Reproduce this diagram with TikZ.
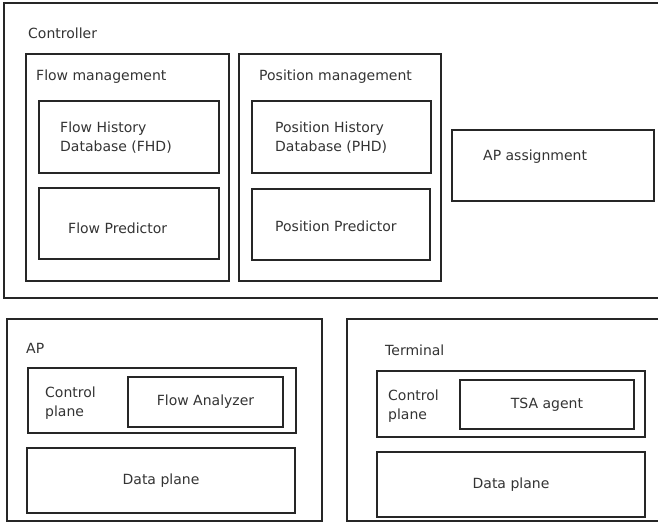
\documentclass[tikz,border=0pt]{standalone}
\usepackage{fontspec}
\setmainfont{DejaVu Sans}
\definecolor{txt}{rgb}{0.2,0.2,0.2}
\begin{document}
\begin{tikzpicture}[x=1pt,y=-1pt,
  box/.style={draw=black!85, line width=1.3pt, inner sep=0pt, outer sep=0pt, anchor=north west},
  lbl/.style={text=txt, font=\fontsize{14}{19}\selectfont, inner sep=0pt, anchor=west, align=left},
  clbl/.style={text=txt, font=\fontsize{14}{19}\selectfont, inner sep=0pt, anchor=center, align=center}]
\useasboundingbox (0,0) rectangle (658,531);
% Controller
\node[box, minimum width=660pt, minimum height=295pt] (ctrl) at (4,3) {};
\node[lbl] (ctrlt) at (28,33) {Controller};
\node[box, minimum width=203pt, minimum height=227pt] (fm) at (26,54) {};
\node[lbl] (fmt) at (36,77) {Flow management};
\node[box, minimum width=180pt, minimum height=72pt] (fhd) at (39,101) {};
\node[lbl] (fhdt) at (60,137.5) {Flow History\\Database (FHD)};
\node[box, minimum width=180pt, minimum height=71pt] (fp) at (39,188) {};
\node[lbl] (fpt) at (68,228) {Flow Predictor};
\node[box, minimum width=202pt, minimum height=227pt] (pm) at (239,54) {};
\node[lbl] (pmt) at (259,77) {Position management};
\node[box, minimum width=179pt, minimum height=72pt] (phd) at (252,101) {};
\node[lbl] (phdt) at (275,137.5) {Position History\\Database (PHD)};
\node[box, minimum width=178pt, minimum height=71pt] (pp) at (252,189) {};
\node[lbl] (ppt) at (275,226) {Position Predictor};
\node[box, minimum width=202pt, minimum height=71pt] (apa) at (452,130) {};
\node[lbl] (apat) at (483,157) {AP assignment};
% AP
\node[box, minimum width=315pt, minimum height=202pt] (ap) at (7,319) {};
\node[lbl] (apt) at (26,348) {AP};
\node[box, minimum width=268pt, minimum height=65pt] (apcp) at (28,368) {};
\node[lbl] (apcpt) at (45,403) {Control\\plane};
\node[box, minimum width=155pt, minimum height=50pt] (fa) at (128,377) {};
\node[clbl] (fat) at (fa.center) {Flow Analyzer};
\node[box, minimum width=268pt, minimum height=65pt] (apdp) at (27,448) {};
\node[clbl] (apdpt) at (apdp.center) {Data plane};
% Terminal
\node[box, minimum width=320pt, minimum height=202pt] (term) at (347,319) {};
\node[lbl] (termt) at (385,350) {Terminal};
\node[box, minimum width=268pt, minimum height=66pt] (tcp) at (377,371) {};
\node[lbl] (tcpt) at (388,406) {Control\\plane};
\node[box, minimum width=174pt, minimum height=49pt] (tsa) at (460,380) {};
\node[clbl] (tsat) at (tsa.center) {TSA agent};
\node[box, minimum width=268pt, minimum height=65pt] (tdp) at (377,452) {};
\node[clbl] (tdpt) at (tdp.center) {Data plane};
\end{tikzpicture}
\end{document}
